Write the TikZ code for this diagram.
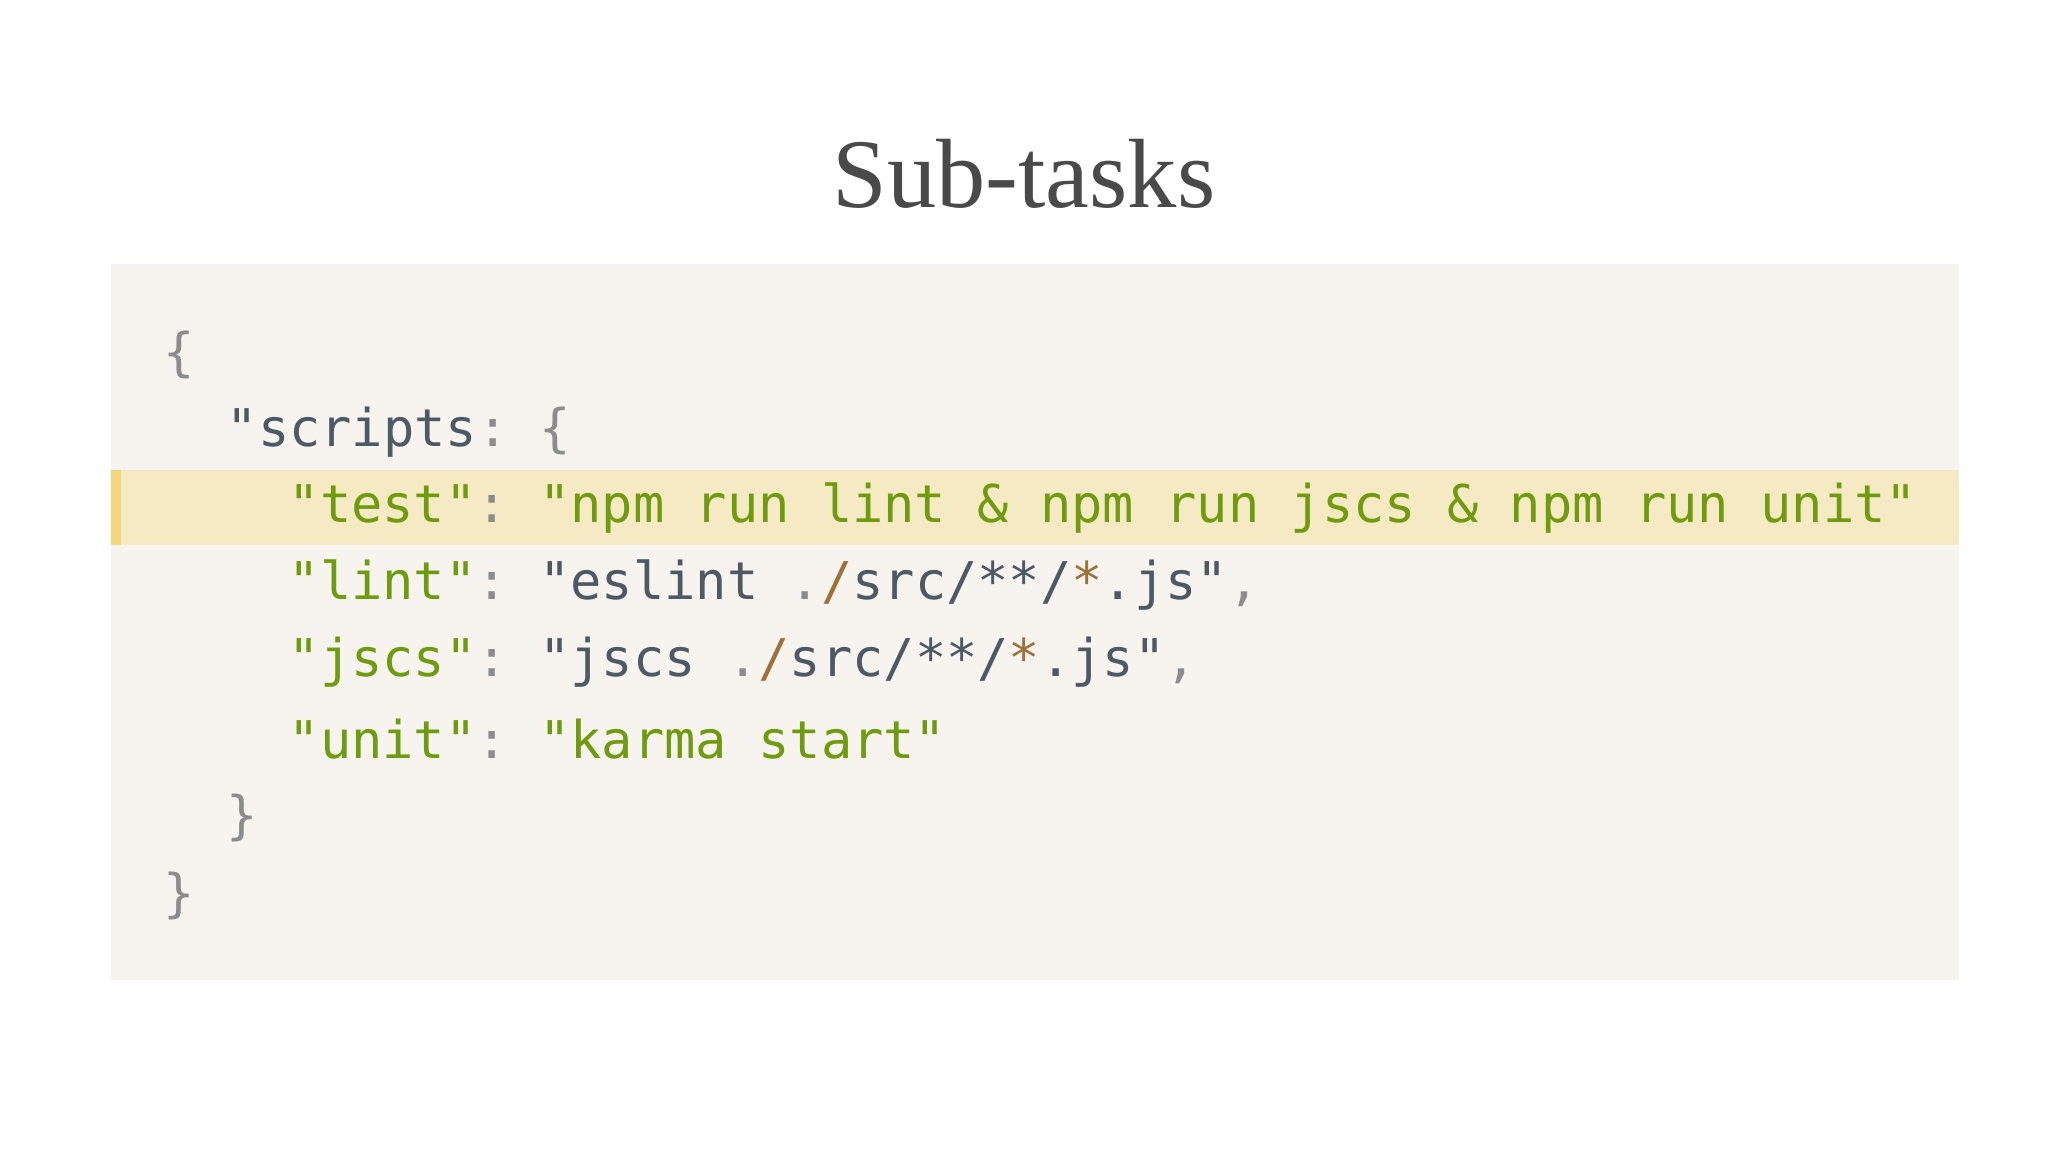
\documentclass[tikz,border=0pt]{standalone}
\usepackage{fontspec}
\setmainfont{Liberation Serif}
\setmonofont{DejaVu Sans Mono}
\usetikzlibrary{positioning}
\definecolor{codebg}{HTML}{F7F4EF}
\definecolor{hlbg}{HTML}{F6EAC4}
\definecolor{hlbar}{HTML}{F3D57C}
\definecolor{titlegray}{HTML}{4A4A4A}
\definecolor{keygreen}{HTML}{6F9B0E}
\definecolor{punct}{HTML}{8C8C8C}
\definecolor{slate}{HTML}{4D5A64}
\definecolor{brownish}{HTML}{A0703A}
\newcommand{\kg}[1]{\textcolor{keygreen}{#1}}
\newcommand{\pc}[1]{\textcolor{punct}{#1}}
\newcommand{\slt}[1]{\textcolor{slate}{#1}}
\newcommand{\brn}[1]{\textcolor{brownish}{#1}}
\begin{document}
\begin{tikzpicture}[x=1cm,y=1cm,
    codeline/.style={anchor=west, inner sep=0pt, font=\ttfamily\fontsize{14.8}{16}\selectfont}]
  \fill[white] (0,0) rectangle (20.48,-11.52);
  % code box
  \fill[codebg] (1.11,-2.64) rectangle (19.59,-9.80);
  \fill[hlbg] (1.11,-4.70) rectangle (19.59,-5.45);
  \fill[hlbar] (1.11,-4.70) rectangle (1.21,-5.45);
  % title
  \node (title) at (10.24,-1.74) {\textcolor{titlegray}{\fontsize{28}{32}\selectfont Sub-tasks}};
  % lines
  \node[codeline] (l1) at (1.63,-3.55) {\pc{\{}};
  \node[codeline] (l2) at (2.26,-4.32) {\slt{"scripts}\pc{: \{}};
  \node[codeline] (l3) at (2.88,-5.08) {\kg{"test"}\pc{: }\kg{"npm run lint \& npm run jscs \& npm run unit"}};
  \node[codeline] (l4) at (2.88,-5.85) {\kg{"lint"}\pc{: }\slt{"eslint }\pc{.}\brn{/}\slt{src/**/}\brn{*}\slt{.js"}\pc{,}};
  \node[codeline] (l5) at (2.88,-6.62) {\kg{"jscs"}\pc{: }\slt{"jscs }\pc{.}\brn{/}\slt{src/**/}\brn{*}\slt{.js"}\pc{,}};
  \node[codeline] (l6) at (2.88,-7.39) {\kg{"unit"}\pc{: }\kg{"karma start"}};
  \node[codeline] (l7) at (2.26,-8.18) {\pc{\}}};
  \node[codeline] (l8) at (1.63,-8.96) {\pc{\}}};
\end{tikzpicture}
\end{document}
